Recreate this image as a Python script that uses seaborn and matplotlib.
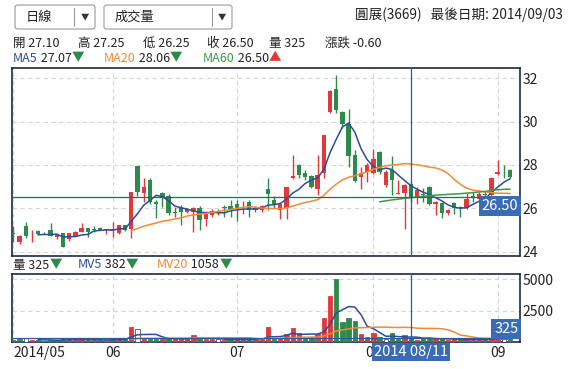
import numpy as np
import pandas as pd
import matplotlib
matplotlib.use('Agg')
import matplotlib.pyplot as plt
import matplotlib.transforms as mtransforms
from matplotlib.patches import FancyBboxPatch
import seaborn as sns

sns.set_style('white')
plt.rcParams['font.family'] = ['Noto Sans CJK TC', 'DejaVu Sans']

# daily OHLC + volume, 2014/05 .. 2014/09/03
opens = [24.85, 24.46, 25.20, 24.85, 24.97, 24.86, 24.98, 24.69, 24.85, 24.57,
         24.72, 24.92, 25.08, 25.05, 25.10, 24.98, 25.00, 24.85, 25.23, 25.05,
         27.95, 26.72, 27.30, 26.30, 26.70, 26.57, 25.85, 26.08, 25.85, 25.85,
         26.03, 25.50, 25.70, 25.77, 26.08, 26.10, 26.18, 26.05, 26.30, 25.92,
         25.92, 26.88, 26.40, 25.90, 26.00, 27.40, 28.00, 27.62, 27.50, 26.90,
         27.62, 30.46, 31.50, 30.46, 29.88, 28.46, 27.45, 27.68, 27.63, 28.60,
         27.06, 27.77, 26.68, 26.72, 27.10, 26.54, 26.66, 27.00, 26.20, 26.26,
         25.77, 26.23, 26.08, 26.00, 26.55, 26.42, 26.68, 26.62, 27.57, 27.68,
         27.77]
highs = [25.20, 24.75, 25.38, 25.00, 25.00, 24.90, 25.34, 24.82, 24.88, 24.85,
         24.95, 25.30, 25.10, 25.18, 25.15, 25.05, 25.37, 25.25, 25.25, 26.75,
         27.95, 27.40, 27.41, 26.40, 26.77, 26.65, 26.05, 26.15, 25.98, 26.05,
         26.10, 25.85, 25.95, 25.95, 26.15, 26.40, 26.40, 26.35, 26.40, 26.10,
         26.15, 27.40, 26.55, 26.25, 27.00, 28.45, 28.05, 27.75, 27.55, 28.45,
         29.38, 31.45, 32.15, 30.50, 30.56, 28.70, 27.90, 28.10, 28.75, 28.62,
         27.75, 28.40, 27.30, 27.10, 27.25, 27.00, 26.92, 27.05, 26.35, 26.30,
         25.95, 26.30, 26.10, 26.70, 26.77, 26.75, 26.80, 27.45, 28.23, 28.00,
         27.80]
lows = [24.45, 24.35, 24.65, 24.45, 24.75, 24.80, 24.70, 24.60, 24.20, 24.50,
        24.70, 24.90, 24.68, 24.90, 24.98, 24.80, 24.68, 24.80, 24.95, 24.65,
        26.55, 26.30, 26.20, 25.55, 26.08, 25.70, 25.60, 25.23, 25.80, 24.92,
        25.00, 25.20, 25.60, 25.70, 25.60, 25.60, 25.40, 25.75, 25.60, 25.85,
        25.85, 25.90, 26.00, 25.50, 25.50, 27.35, 27.40, 27.30, 26.95, 26.60,
        27.40, 30.40, 30.39, 29.70, 27.90, 27.20, 26.90, 27.20, 27.60, 27.60,
        27.00, 26.60, 26.65, 25.06, 26.25, 26.20, 26.30, 26.15, 25.70, 25.55,
        25.70, 25.75, 25.60, 25.95, 26.30, 26.40, 26.55, 26.55, 27.55, 27.40,
        27.40]
closes = [24.80, 24.72, 24.72, 24.85, 24.82, 24.85, 24.72, 24.80, 24.20, 24.85,
          24.92, 25.08, 24.92, 25.00, 24.98, 25.05, 25.00, 25.23, 25.00, 26.75,
          26.75, 26.97, 26.30, 26.22, 26.46, 25.77, 25.80, 25.85, 25.96, 26.00,
          25.46, 25.74, 25.88, 25.88, 26.00, 25.92, 25.96, 26.05, 25.92, 26.00,
          26.10, 26.66, 26.15, 26.20, 27.00, 27.50, 27.54, 27.46, 27.00, 27.53,
          29.38, 31.43, 30.54, 29.88, 28.42, 27.28, 27.63, 27.99, 28.29, 27.68,
          27.68, 27.30, 26.70, 27.06, 26.50, 26.85, 26.60, 26.20, 26.30, 25.77,
          25.92, 26.03, 26.00, 26.42, 26.52, 26.65, 26.62, 27.42, 27.66, 27.66,
          27.46]
volumes = [150, 200, 290, 150, 120, 100, 150, 180, 250, 200,
           180, 200, 150, 150, 180, 150, 200, 250, 200, 1220,
           1010, 290, 300, 200, 250, 350, 200, 250, 200, 560,
           300, 250, 200, 200, 150, 200, 200, 150, 250, 150,
           200, 1220, 290, 290, 640, 1090, 690, 370, 370, 640,
           1890, 3670, 5000, 1620, 1890, 1700, 640, 370, 690, 370,
           210, 690, 210, 530, 325, 160, 290, 290, 290, 210,
           160, 200, 150, 250, 150, 200, 150, 350, 250, 200,
           220]

month_pos = [0, 16, 36, 58, 78]
month_labels = ['2014/05', '06', '07', '08', '09']
cross_idx = 64
cross_date = '2014 08/11'

RED = '#e2383b'
GREEN = '#2e8a4b'
BLUE = '#2b4d9b'
ORANGE = '#f28a36'
MA60C = '#3a9a4a'
NAVY = '#1c2a45'
BOX = '#3a6cb3'
GRID = '#d6d6d6'

df = pd.DataFrame({'open': opens, 'high': highs, 'low': lows,
                   'close': closes, 'vol': volumes})
df['i'] = np.arange(len(df))
df['ma5'] = df['close'].rolling(5).mean()
df['ma20'] = df['close'].rolling(20).mean()
df['ma60'] = df['close'].rolling(60).mean()
df['mv5'] = df['vol'].rolling(5).mean()
df['mv20'] = df['vol'].rolling(20).mean()

W, H = 573, 369
fig = plt.figure(figsize=(W / 100, H / 100), dpi=100)
fig.patch.set_facecolor('white')


def box(x0, y0, x1, y1):
    return [x0 / W, 1 - y1 / H, (x1 - x0) / W, (y1 - y0) / H]


ax = fig.add_axes(box(12, 68, 520, 256))
axv = fig.add_axes(box(12, 274, 520, 342))
xlim = (-0.21, 81.6)

# candles (red = up, green = down)
cc = [RED if c >= o else GREEN for o, c in zip(df['open'], df['close'])]
body_lo = np.minimum(df['open'], df['close'])
body_h = np.maximum(np.abs(df['close'] - df['open']), 0.03)
ax.vlines(df['i'], df['low'], df['high'], colors=cc, lw=1, zorder=3)
ax.bar(df['i'], body_h, bottom=body_lo, width=0.7, color=cc, lw=0, zorder=4)

sns.lineplot(data=df, x='i', y='ma5', ax=ax, color=BLUE, lw=1.1, zorder=5)
sns.lineplot(data=df, x='i', y='ma20', ax=ax, color=ORANGE, lw=1.1, zorder=5)
sns.lineplot(data=df, x='i', y='ma60', ax=ax, color=MA60C, lw=1.1, zorder=5)

ax.set_xlim(*xlim)
ax.set_ylim(23.8, 32.47)
ax.set_yticks([24, 26, 28, 30, 32])
ax.set_xticks(month_pos)
ax.set_xticklabels([])

# volume bars coloured by change vs previous close
prev = df['close'].shift(1).fillna(df['open'])
vc, ve = [], []
for c, p in zip(df['close'], prev):
    if c > p + 1e-9:
        vc.append(RED); ve.append(RED)
    elif c < p - 1e-9:
        vc.append(GREEN); ve.append(GREEN)
    else:
        vc.append('white'); ve.append('#555555')
axv.bar(df['i'], df['vol'], width=0.7, color=vc, edgecolor=ve, lw=0.6, zorder=3)
sns.lineplot(data=df, x='i', y='mv5', ax=axv, color=BLUE, lw=1.1, zorder=5)
sns.lineplot(data=df, x='i', y='mv20', ax=axv, color=ORANGE, lw=1.1, zorder=5)
axv.set_xlim(*xlim)
axv.set_ylim(0, 5400)
axv.set_yticks([2500, 5000])
axv.set_yticklabels(['2500', '5000'])
axv.set_xticks(month_pos)
axv.set_xticklabels(month_labels)
axv.get_xticklabels()[0].set_horizontalalignment('left')

for a in (ax, axv):
    a.set_xlabel('')
    a.set_ylabel('')
    a.grid(True, ls=(0, (4, 3)), color=GRID, lw=0.8)
    a.set_axisbelow(True)
    a.yaxis.tick_right()
    a.tick_params(length=0, labelsize=10, colors='#222222', pad=2)
    for s in a.spines.values():
        s.set_color(NAVY)
        s.set_linewidth(1.2)
axv.tick_params(axis='x', pad=3)

# crosshair
cclose = closes[cross_idx]
cvol = volumes[cross_idx]
for a in (ax, axv):
    a.axvline(cross_idx, color='#2f5b9c', lw=0.9, zorder=6)
ax.axhline(cclose, color='#2f5b9c', lw=0.9, zorder=6)
axv.axhline(cvol, color='#2f5b9c', lw=0.9, zorder=6)

tr = mtransforms.blended_transform_factory(ax.transAxes, ax.transData)
ax.text(0.997, cclose - 0.06, f'{cclose:.2f}', transform=tr, ha='right', va='top',
        color='white', fontsize=10.5, zorder=10,
        bbox=dict(boxstyle='square,pad=0.2', fc=BOX, ec='none'))
trv = mtransforms.blended_transform_factory(axv.transAxes, axv.transData)
axv.text(0.997, cvol + 120, f'{cvol}', transform=trv, ha='right', va='bottom',
         color='white', fontsize=10.5, zorder=10,
         bbox=dict(boxstyle='square,pad=0.2', fc=BOX, ec='none'))
xd = ax.transData.transform((cross_idx, 0))[0] / W
fig.text(xd, 1 - 352 / H, cross_date, ha='center', va='center', color='white',
         fontsize=10.5, zorder=10, bbox=dict(boxstyle='square,pad=0.12', fc=BOX, ec='none'))

# header
rend = fig.canvas.get_renderer()


def rich(x, y, parts, size=9):
    for s, c in parts:
        t = fig.text(x / W, 1 - y / H, s, color=c, fontsize=size, va='center', ha='left')
        x += t.get_window_extent(renderer=rend).width


for x0, x1, sep, label in [(15, 95, 74, '日線'), (104, 232, 212, '成交量')]:
    fig.patches.append(FancyBboxPatch((x0 / W, 1 - 29 / H), (x1 - x0) / W, 24 / H,
                                      boxstyle='round,pad=0,rounding_size=0.006',
                                      transform=fig.transFigure, fc='white',
                                      ec='#9a9a9a', lw=0.8))
    fig.add_artist(plt.Line2D([sep / W, sep / W], [1 - 26 / H, 1 - 8 / H],
                              transform=fig.transFigure, color='#9a9a9a', lw=0.8))
    fig.text((x0 + 11) / W, 1 - 17 / H, label, fontsize=9.5, va='center', color='#222222')
    fig.text((sep + x1) / 2 / W, 1 - 17 / H, '▼', fontsize=6, va='center', ha='center',
             color='#333333')

fig.text(563 / W, 1 - 15 / H, '圓展(3669)   最後日期: 2014/09/03', ha='right', va='center',
         fontsize=9.8, color='#222222')

dark = '#222222'
rich(13, 43, [('開 27.10', dark)])
rich(78, 43, [('高 27.25', dark)])
rich(143, 43, [('低 26.25', dark)])
rich(207, 43, [('收 26.50', dark)])
rich(269, 43, [('量 325', dark)])
rich(325, 43, [('漲跌 -0.60', dark)])

rich(13, 58, [('MA5', BLUE), (' 27.07', dark), ('▼', GREEN)])
rich(104, 58, [('MA20', ORANGE), (' 28.06', dark), ('▼', GREEN)])
rich(203, 58, [('MA60', MA60C), (' 26.50', dark), ('▲', RED)])

rich(13, 265, [('量 325', dark), ('▼', GREEN)])
rich(78, 265, [('MV5', BLUE), (' 382', dark), ('▼', GREEN)])
rich(157, 265, [('MV20', ORANGE), (' 1058', dark), ('▼', GREEN)])

fig.savefig('out.png', dpi=100)
